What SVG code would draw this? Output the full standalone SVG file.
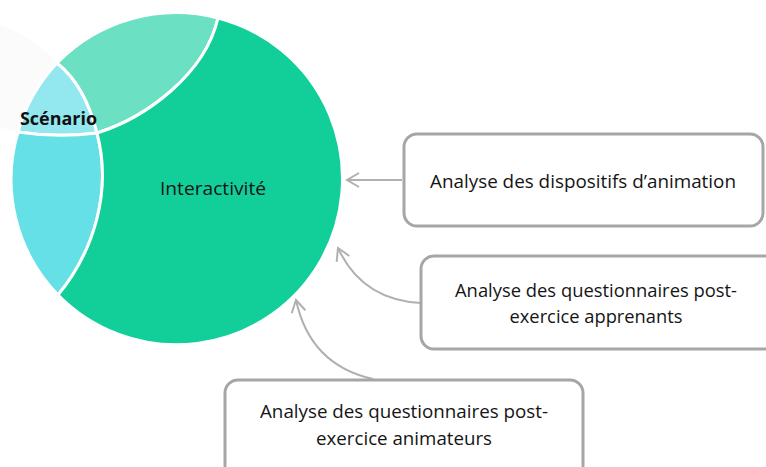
<svg xmlns="http://www.w3.org/2000/svg" width="766" height="467" viewBox="0 0 766 467">
  <style>
    .seg { stroke: #ffffff; stroke-width: 3; stroke-linejoin: round; }
    .box { fill: #ffffff; stroke: #a6a6a6; stroke-width: 3; }
    .lbl { font-family: "Open Sans", "Liberation Sans", sans-serif; font-size: 18px; fill: #151515; }
    .conn { fill: none; stroke: #b0b0b0; stroke-width: 2; }
  </style>
  <defs>
    <marker id="arr" viewBox="0 0 16 16" refX="14" refY="8" markerWidth="16" markerHeight="16" markerUnits="userSpaceOnUse" orient="auto">
      <path d="M2,1 L14,8 L2,15" fill="none" stroke="#b0b0b0" stroke-width="2"/>
    </marker>
  </defs>
  <rect width="766" height="467" fill="#ffffff"/>

  <g id="background-faint">
    <path d="M0,25 Q30,35 57,63 A166,166 0 0 0 18,131 L0,128 Z" fill="#fbfbfb"/>
  </g>

  <g id="venn">
    <g id="scenario-top">
      <path class="seg" d="M57,63 A166,166 0 0 0 18,132 Q57,138 97,133 Q85,85 57,63 Z" fill="#93e7ee"/>
    </g>
    <g id="light-green">
      <path class="seg" d="M57,63 A166,166 0 0 1 218,18 C205,75 145,118 97,133 Q85,85 57,63 Z" fill="#6be0c2"/>
    </g>
    <g id="cyan-left">
      <path class="seg" d="M18,132 A166,166 0 0 0 58,295 C95,250 112,190 97,133 Q57,138 18,132 Z" fill="#65e0e6"/>
    </g>
    <g id="interactivite">
      <path class="seg" d="M218,18 A166,166 0 1 1 58,295 C95,250 112,190 97,133 C145,118 205,75 218,18 Z" fill="#12cf9a"/>
      <text class="lbl" x="213" y="195" text-anchor="middle" textLength="106" lengthAdjust="spacingAndGlyphs">Interactivité</text>
    </g>
    <g id="scenario-label">
      <text x="20" y="125" font-family="'Open Sans', 'Liberation Sans', sans-serif" font-size="17" font-weight="bold" fill="#111111" textLength="77" lengthAdjust="spacingAndGlyphs">Scénario</text>
    </g>
  </g>

  <g id="connectors">
    <path class="conn" d="M402,180 L347,180" marker-end="url(#arr)"/>
    <path class="conn" d="M421,303 Q362,300 338,248" marker-end="url(#arr)"/>
    <path class="conn" d="M373,379 Q310,365 296,300" marker-end="url(#arr)"/>
  </g>

  <g id="box-dispositifs">
    <rect class="box" x="404" y="134" width="359" height="92" rx="13"/>
    <text class="lbl" x="583" y="188" text-anchor="middle" textLength="306" lengthAdjust="spacingAndGlyphs">Analyse des dispositifs d’animation</text>
  </g>

  <g id="box-apprenants">
    <rect class="box" x="421" y="256" width="360" height="93" rx="13"/>
    <text class="lbl" x="596" y="297" text-anchor="middle" textLength="282" lengthAdjust="spacingAndGlyphs">Analyse des questionnaires post-</text>
    <text class="lbl" x="596" y="323" text-anchor="middle" textLength="173" lengthAdjust="spacingAndGlyphs">exercice apprenants</text>
  </g>

  <g id="box-animateurs">
    <rect class="box" x="225" y="380" width="358" height="100" rx="13"/>
    <text class="lbl" x="404" y="418" text-anchor="middle" textLength="288" lengthAdjust="spacingAndGlyphs">Analyse des questionnaires post-</text>
    <text class="lbl" x="404" y="445" text-anchor="middle" textLength="176" lengthAdjust="spacingAndGlyphs">exercice animateurs</text>
  </g>
</svg>
